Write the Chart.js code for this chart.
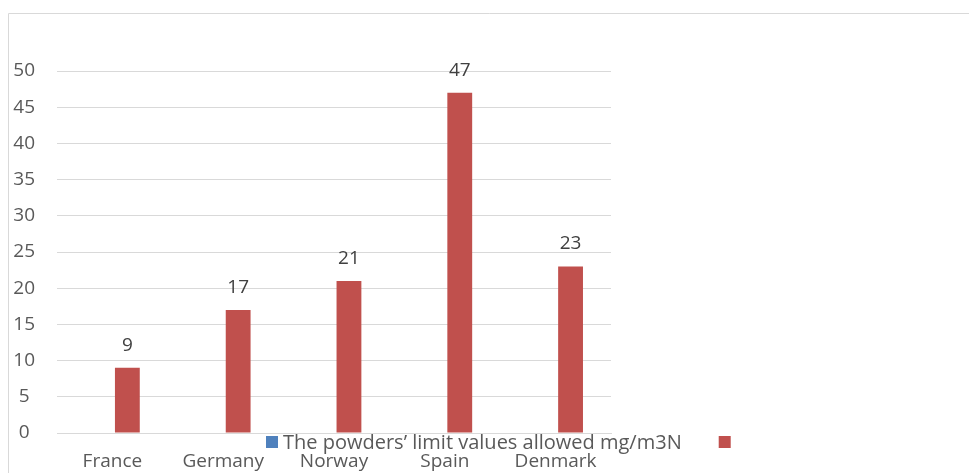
<!DOCTYPE html>
<html>
<head>
<meta charset="utf-8">
<script src="https://cdn.jsdelivr.net/npm/chart.js@4"></script>
<style>
html,body{margin:0;padding:0;background:#fff;}
#wrap{position:relative;width:969px;height:473px;}
canvas{display:block;}
</style>
</head>
<body>
<div id="wrap"><canvas id="c" width="969" height="473"></canvas></div>
<script>
const categories = ["France", "Germany", "Norway", "Spain", "Denmark"];
const seriesBlueLabel = "The powders\u2019 limit values allowed mg/m3N";
const seriesBlue = [null, null, null, null, null];
const seriesRedLabel = "";
const seriesRed = [9, 17, 21, 47, 23];
const yTicks = [0, 5, 10, 15, 20, 25, 30, 35, 40, 45, 50];

const FONT = "'Open Sans', 'Noto Sans', sans-serif";

const frame = {
  id: 'frame',
  beforeDraw(chart) {
    const ctx = chart.ctx;
    ctx.save();
    ctx.strokeStyle = '#d9d9d9';
    ctx.lineWidth = 1;
    ctx.beginPath();
    ctx.moveTo(8.5, 480);
    ctx.lineTo(8.5, 13.5);
    ctx.lineTo(980, 13.5);
    ctx.stroke();
    ctx.restore();
  }
};

const dataLabels = {
  id: 'dataLabels',
  afterDatasetsDraw(chart) {
    const ctx = chart.ctx;
    ctx.save();
    ctx.font = "19px " + FONT;
    ctx.fillStyle = '#404040';
    ctx.textAlign = 'center';
    ctx.textBaseline = 'alphabetic';
    const meta = chart.getDatasetMeta(1);
    meta.data.forEach((el, i) => {
      const v = chart.data.datasets[1].data[i];
      if (v == null) return;
      ctx.fillText(String(v), el.x, el.y - 17);
    });
    ctx.restore();
  }
};

const customLegend = {
  id: 'customLegend',
  afterDraw(chart) {
    const ctx = chart.ctx;
    ctx.save();
    ctx.font = "20px " + FONT;
    ctx.textBaseline = 'alphabetic';
    ctx.textAlign = 'left';
    let x = 266;
    const boxTop = 436, box = 12;
    chart.data.datasets.forEach((ds, i) => {
      ctx.fillStyle = ds.backgroundColor;
      ctx.fillRect(x, boxTop, box, box);
      x += box + 5;
      if (ds.label) {
        ctx.fillStyle = '#595959';
        ctx.fillText(ds.label, x, 449);
        x += ctx.measureText(ds.label).width + 37;
      }
    });
    ctx.restore();
  }
};

new Chart(document.getElementById('c'), {
  type: 'bar',
  data: {
    labels: categories,
    datasets: [
      { label: seriesBlueLabel, data: seriesBlue, backgroundColor: '#4F81BD', categoryPercentage: 0.54, barPercentage: 0.83 },
      { label: seriesRedLabel, data: seriesRed, backgroundColor: '#C0504D', categoryPercentage: 0.54, barPercentage: 0.83 }
    ]
  },
  options: {
    responsive: false,
    animation: false,
    devicePixelRatio: 1,
    layout: { padding: { left: 0, top: 71, right: 358, bottom: 0 } },
    plugins: { legend: { display: false }, tooltip: { enabled: false } },
    scales: {
      x: {
        grid: { display: false, drawTicks: false },
        border: { display: true, color: '#d9d9d9', width: 1 },
        ticks: { color: '#595959', font: { family: FONT, size: 19 }, padding: 17, maxRotation: 0, autoSkip: false },
        afterFit(scale) { scale.height = 40; }
      },
      y: {
        min: 0, max: 50,
        afterBuildTicks(scale) { scale.ticks = yTicks.map(v => ({ value: v })); },
        grid: { color: '#d9d9d9', lineWidth: 1, drawTicks: false },
        border: { display: false },
        ticks: { color: '#595959', font: { family: FONT, size: 19 }, padding: 22, crossAlign: 'center' },
        afterFit(scale) { scale.width = 57; }
      }
    }
  },
  plugins: [frame, dataLabels, customLegend]
});
</script>
</body>
</html>
